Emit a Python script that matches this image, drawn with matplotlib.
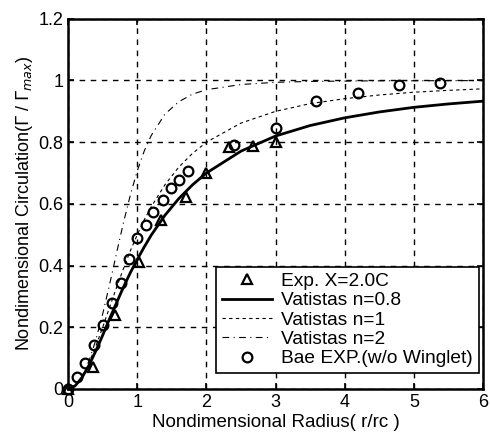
"""Vatistas vortex circulation vs experiment."""
import matplotlib; matplotlib.use("Agg")
import matplotlib.pyplot as plt

plt.rcParams["font.family"] = ["Liberation Sans", "DejaVu Sans"]
plt.rcParams["mathtext.fontset"] = "dejavusans"

# Exp. X=2.0C (triangles)
exp_r = [0.0, 0.36, 0.68, 1.03, 1.35, 1.71, 2.0, 2.33, 2.67, 3.0]
exp_g = [0.0, 0.072, 0.24, 0.41, 0.547, 0.622, 0.70, 0.784, 0.787, 0.80]

# Bae EXP. (w/o Winglet) (circles)
bae_r = [0.0, 0.13, 0.245, 0.37, 0.5, 0.64, 0.76, 0.88, 1.0, 1.12, 1.23, 1.37,
         1.49, 1.61, 1.73, 2.4, 3.0, 3.59, 4.19, 4.79, 5.38]
bae_g = [0.0, 0.04, 0.085, 0.142, 0.207, 0.277, 0.344, 0.42, 0.488, 0.53, 0.574,
         0.612, 0.65, 0.676, 0.707, 0.79, 0.846, 0.932, 0.959, 0.984, 0.991]

# Vatistas curves
r_curve = [0.0, 0.1, 0.2, 0.3, 0.4, 0.5, 0.6, 0.7, 0.8, 0.9, 1.0, 1.1, 1.2, 1.4,
           1.6, 1.8, 2.0, 2.5, 3.0, 3.5, 4.0, 4.5, 5.0, 5.5, 6.0]
vat_08 = [0.0, 0.0097, 0.0365, 0.076, 0.123, 0.174, 0.228, 0.279, 0.330, 0.377,
          0.420, 0.460, 0.498, 0.563, 0.617, 0.662, 0.700, 0.771, 0.820, 0.854,
          0.879, 0.898, 0.913, 0.924, 0.933]
vat_1 = [0.0, 0.0099, 0.0385, 0.083, 0.138, 0.20, 0.265, 0.329, 0.39, 0.448,
         0.50, 0.548, 0.59, 0.662, 0.719, 0.764, 0.80, 0.862, 0.90, 0.925,
         0.941, 0.953, 0.962, 0.968, 0.973]
vat_2 = [0.0, 0.01, 0.04, 0.09, 0.158, 0.243, 0.339, 0.44, 0.539, 0.629,
         0.707, 0.771, 0.821, 0.891, 0.931, 0.956, 0.970, 0.987, 0.994, 0.997,
         0.998, 0.999, 0.999, 0.9995, 0.9996]

fig = plt.figure(figsize=(4.9, 4.37), dpi=100)
ax = fig.add_axes([0.139, 0.110, 0.847, 0.847])

ax.plot(exp_r, exp_g, "^", ms=7, mfc="none", mec="black", mew=1.6,
        clip_on=False, zorder=4, label="Exp. X=2.0C")
ax.plot(r_curve, vat_08, "-", color="black", lw=2, label="Vatistas n=0.8")
ax.plot(r_curve, vat_1, "--", color="black", lw=0.8, dashes=(3, 3), label="Vatistas n=1")
ax.plot(r_curve, vat_2, "-.", color="black", lw=0.8, dashes=(6, 4, 1, 4), label="Vatistas n=2")
ax.plot(bae_r, bae_g, "o", ms=7, mfc="none", mec="black", mew=1.6,
        clip_on=False, zorder=4, label="Bae EXP.(w/o Winglet)")

ax.set_xlim(0, 6)
ax.set_ylim(0, 1.2)
ax.set_xticks(range(7))
ax.set_yticks([0, 0.2, 0.4, 0.6, 0.8, 1.0, 1.2])
ax.set_yticklabels(["0", "0.2", "0.4", "0.6", "0.8", "1", "1.2"])
ax.tick_params(direction="in", top=True, right=True, labelsize=13, length=4, width=1.2)
ax.grid(True, color="black", linestyle=(0, (4, 4)), linewidth=1)
for s in ax.spines.values():
    s.set_linewidth(1.8)

ax.set_xlabel("Nondimensional Radius( r/rc )", fontsize=13.5, labelpad=2)
ax.set_ylabel(r"Nondimensional Circulation($\Gamma$ / $\Gamma_{max}$)", fontsize=13, labelpad=2)

leg = ax.legend(loc="lower right", bbox_to_anchor=(0.99, 0.043), borderaxespad=0,
                fontsize=13.8, frameon=True, fancybox=False, edgecolor="black",
                framealpha=1, handlelength=2.6, borderpad=0.3, labelspacing=0.1,
                handletextpad=0.5)
leg.get_frame().set_linewidth(1.2)

plt.savefig("out.png", dpi=100)
